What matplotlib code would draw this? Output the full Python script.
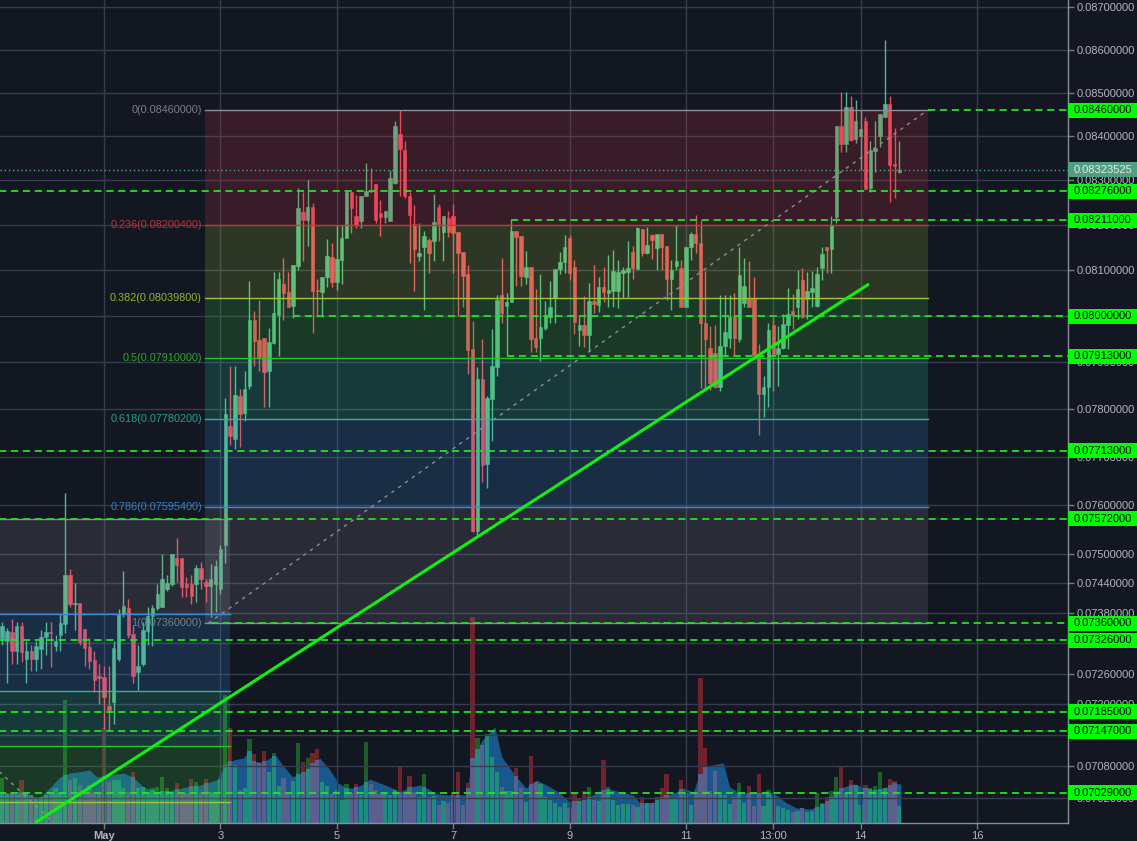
import numpy as np
import pandas as pd
import matplotlib
matplotlib.use("Agg")
import matplotlib.pyplot as plt
import matplotlib.dates as mdates
from matplotlib.patches import Rectangle
from matplotlib.transforms import IdentityTransform
from matplotlib.ticker import FixedLocator, FuncFormatter, NullLocator

plt.rcParams['font.family'] = ['Liberation Sans', 'DejaVu Sans']

# ---------- 2h candles, ETH/BTC, from 2018-04-29 06:00 ----------
first_candle = '2018-04-29 06:00'

opens = [
    .07330, .07324, .07342, .07304, .07355, .07290, .07304, .07290, .07308, .07332,
    .07342, .07314, .07336, .07359, .07458, .07399, .07401, .07348, .07312, .07288,
    .07256, .07253, .07197, .07205, .07290, .07379, .07391, .07338, .07264, .07280,
    .07344, .07375, .07391, .07393, .07429, .07439, .07492, .07492, .07439, .07439,
    .07439, .07472, .07443, .07435, .07439, .07429, .07519, .07765, .07738, .07828,
    .07792, .07849, .07992, .07948, .07952, .07882, .07941, .08002, .08070, .08053,
    .08022, .08110, .08230, .08211, .08241, .08057, .08053, .08086, .08130, .08075,
    .08123, .08171, .08275, .08220, .08209, .08264, .08275, .08293, .08227, .08218,
    .08209, .08295, .08405, .08368, .08264, .08202, .08132, .08152, .08167, .08165,
    .08241, .08185, .08216, .08220, .08185, .08141, .08092, .07929, .07546, .07864,
    .07685, .07822, .07891, .08046, .08022, .08031, .08187, .08176, .08086, .08108,
    .07952, .07952, .07975, .07998, .08040, .08103, .08119, .08171, .08108, .07969,
    .07981, .07960, .08033, .08024, .08064, .08051, .08055, .08055, .08094, .08097,
    .08141, .08103, .08191, .08138, .08178, .08149, .08180, .08154, .08081, .08110,
    .08105, .08020, .08152, .08180, .08160, .07985, .07931, .07920, .07847, .07935,
    .07952, .07998, .07950, .08029, .08040, .08040, .07916, .07832, .07847, .07981,
    .07918, .07931, .07981, .08011, .08020, .08079, .08037, .08053, .08022, .08105,
    .08152, .08147, .08218, .08423, .08382, .08466, .08393, .08400, .08434, .08284,
    .08366, .08400, .08445, .08475, .08336, .08320,
]
highs = [
    .07363, .07350, .07369, .07363, .07363, .07324, .07316, .07324, .07346, .07363,
    .07363, .07336, .07379, .07624, .07470, .07441, .07401, .07348, .07330, .07304,
    .07280, .07276, .07276, .07324, .07389, .07466, .07409, .07355, .07316, .07363,
    .07393, .07397, .07439, .07500, .07458, .07500, .07532, .07492, .07454, .07458,
    .07478, .07484, .07449, .07480, .07488, .07519, .07824, .07893, .07893, .07843,
    .07882, .08077, .08011, .08035, .07952, .07975, .08097, .08097, .08127, .08097,
    .08112, .08284, .08273, .08302, .08250, .08081, .08086, .08169, .08160, .08200,
    .08200, .08275, .08275, .08268, .08266, .08339, .08327, .08293, .08257, .08232,
    .08323, .08434, .08461, .08389, .08275, .08245, .08204, .08187, .08171, .08270,
    .08248, .08220, .08232, .08248, .08185, .08141, .08112, .07990, .07891, .07950,
    .07828, .07971, .08046, .08127, .08051, .08211, .08187, .08176, .08143, .08108,
    .08059, .08092, .08033, .08077, .08103, .08141, .08178, .08178, .08123, .07998,
    .08044, .08073, .08112, .08086, .08108, .08134, .08145, .08123, .08108, .08165,
    .08154, .08196, .08191, .08196, .08180, .08180, .08180, .08154, .08123, .08200,
    .08123, .08152, .08185, .08223, .08211, .08099, .07979, .07981, .08046,
    .08046, .08046, .08051, .08152, .08127, .08121, .08086, .07939, .07870, .07985,
    .07998, .07979, .08004, .08062, .08048, .08101, .08105, .08097, .08099, .08108,
    .08152, .08152, .08220, .08423, .08502, .08502, .08493, .08484, .08459, .08443,
    .08389, .08434, .08452, .08623, .08493, .08420, .08389,
]
lows = [
    .07316, .07241, .07280, .07280, .07284, .07241, .07266, .07266, .07270, .07296,
    .07274, .07304, .07304, .07340, .07393, .07346, .07316, .07276, .07270, .07225,
    .07201, .07152, .07148, .07161, .07286, .07373, .07330, .07241, .07227, .07276,
    .07316, .07314, .07387, .07393, .07425, .07435, .07443, .07413, .07413, .07399,
    .07403, .07429, .07403, .07373, .07383, .07419, .07482, .07725, .07717, .07721,
    .07775, .07843, .07893, .07882, .07805, .07805, .07939, .07914, .07992, .08020,
    .07996, .08101, .08121, .08154, .07964, .07998, .07998, .08064, .08064, .08057,
    .08070, .08171, .08182, .08193, .08193, .08264, .08273, .08205, .08176, .08205,
    .08209, .08291, .08264, .08261, .08116, .08055, .08121, .08013, .08094, .08121,
    .08165, .08121, .08174, .08094, .08000, .08020, .07876, .07544, .07534, .07647,
    .07635, .07733, .07870, .07985, .07916, .08031, .08066, .08066, .08070, .07922,
    .07922, .07903, .07969, .07985, .07985, .08092, .08095, .08079, .07962, .07935,
    .07933, .07924, .08007, .08009, .08031, .08020, .08020, .08018, .08040, .08042,
    .08081, .08103, .08132, .08136, .08125, .08101, .08101, .08035, .08013, .08101,
    .08020, .08020, .08123, .08138, .07845, .07840, .07840, .07845, .07838, .07912,
    .07931, .07916, .07943, .08020, .08020, .07914, .07746, .07784, .07805, .07838,
    .07849, .07929, .07929, .07971, .07994, .07996, .07994, .08020, .08020, .08079,
    .08095, .08095, .08205, .08364, .08364, .08389, .08384, .08323, .08280, .08275,
    .08318, .08375, .08445, .08252, .08261, .08316,
]
closes = [
    .07355, .07344, .07304, .07355, .07302, .07304, .07290, .07314, .07332, .07342,
    .07340, .07324, .07361, .07458, .07399, .07401, .07322, .07310, .07286, .07247,
    .07251, .07215, .07189, .07310, .07379, .07395, .07336, .07256, .07276, .07346,
    .07375, .07391, .07419, .07450, .07441, .07500, .07478, .07433, .07433, .07415,
    .07472, .07449, .07435, .07450, .07476, .07509, .07790, .07744, .07830, .07790,
    .07843, .07992, .07945, .07912, .07880, .07943, .08007, .08081, .08051, .08020,
    .08112, .08239, .08211, .08241, .08055, .08055, .08086, .08132, .08075, .08125,
    .08171, .08275, .08239, .08200, .08266, .08277, .08273, .08211, .08218, .08232,
    .08305, .08423, .08370, .08264, .08223, .08147, .08138, .08176, .08138, .08207,
    .08202, .08220, .08185, .08182, .08138, .08088, .07927, .07546, .07864, .07683,
    .07824, .07893, .08035, .08007, .08031, .08187, .08174, .08088, .08108, .07950,
    .07933, .07977, .08000, .08020, .08103, .08119, .08152, .08095, .07987, .07981,
    .07960, .08033, .08026, .08064, .08053, .08057, .08099, .08097, .08101, .08105,
    .08105, .08193, .08138, .08156, .08167, .08180, .08152, .08081, .08101, .08121,
    .08020, .08152, .08180, .08160, .07985, .07950, .07857, .07847, .07935, .07966,
    .07998, .07952, .08090, .08066, .08020, .07916, .07832, .07847, .07969, .07918,
    .07931, .07983, .08004, .08002, .08059, .07998, .08055, .08062, .08092, .08136,
    .08145, .08200, .08423, .08382, .08466, .08391, .08434, .08416, .08280, .08368,
    .08373, .08452, .08475, .08334, .08332, .083235,
]
volumes = [
    450, 300, 310, 280, 430, 310, 280, 250, 260, 280,
    310, 350, 300, 1230, 430, 450, 380, 330, 380, 310,
    300, 950, 410, 430, 430, 350, 310, 510, 350, 360,
    310, 350, 360, 460, 350, 310, 400, 310, 300, 440,
    410, 310, 440, 310, 300, 430, 1280, 950, 580, 330,
    350, 840, 690, 610, 720, 510, 700, 370, 450, 290,
    420, 800, 610, 650, 700, 740, 410, 370, 290, 330,
    230, 390, 300, 390, 280, 810, 390, 330, 290, 290,
    280, 330, 570, 310, 470, 310, 260, 490, 260, 270,
    180, 220, 200, 310, 510, 180, 400, 2060, 850, 780,
    890, 660, 510, 360, 320, 320, 550, 350, 210, 670,
    410, 390, 260, 230, 200, 160, 200, 150, 300, 240,
    320, 360, 230, 220, 630, 360, 230, 180, 190, 190,
    180, 160, 260, 200, 200, 260, 350, 490, 250, 250,
    430, 300, 180, 300, 1450, 750, 320, 520, 300, 280,
    190, 260, 400, 200, 370, 170, 490, 170, 330, 260,
    170, 150, 130, 110, 120, 150, 110, 120, 300, 200,
    260, 320, 460, 560, 300, 430, 380, 180, 380, 350,
    370, 510, 350, 440, 420, 170,
]

# volume moving average (blue area), read at candle positions counted from May 1 00:00
ma_pos = [-22, -17.3, -13.2, -9.1, -7, -2.9, -1.5, 1.2, 4, 6, 8.1, 10.9, 14.3, 17, 19.8,
          23.2, 25.3, 26.7, 28.7, 30, 31, 32.2, 33.5, 35.3, 37, 38.9, 40.4, 41.9, 43.2,
          44.5, 46.6, 48.3, 50, 51.4, 53.1, 54.8, 56.9, 59, 61, 63.1, 65.2, 66.9, 68.6,
          70.7, 74.8, 75.8, 78, 80.6, 82, 84.4, 87, 89.2, 92, 94, 96, 98.8, 101.6, 103.6,
          106.4, 109.1, 110.5, 113.3, 114.7, 117.4, 119.5, 121.5, 122.5, 123.9, 126.3,
          127.7, 129, 131.1, 134.6, 138, 140.8, 142.8, 145.6, 147.6, 149.7, 151.8, 154.5,
          156.6, 158.6, 161.4, 162.8, 164.3]
ma_vol = [280, 310, 250, 460, 500, 530, 460, 480, 500, 460, 360, 310, 330, 360, 380,
          430, 600, 630, 650, 720, 620, 600, 630, 680, 570, 460, 500, 530, 610,
          650, 530, 400, 350, 350, 380, 440, 400, 360, 310, 360, 380, 340, 290,
          280, 280, 630, 830, 960, 660, 500, 350, 430, 360, 300, 210, 230, 300, 350,
          310, 280, 200, 200, 260, 300, 350, 310, 450, 560, 590,
          600, 360, 300, 300, 300, 200, 150, 140, 170, 250, 350, 390,
          360, 330, 360, 400, 390]

# fibonacci retracement drawings
fib_levels = [0, 0.236, 0.382, 0.5, 0.618, 0.786, 1]
fib_level_names = ['0', '0.236', '0.382', '0.5', '0.618', '0.786', '1']
fib_top, fib_bottom = 0.0846, 0.0736
fib_span = ['2018-05-02 17:30', '2018-05-15 03:45']
fib_diag_start = '2018-05-02 19:00'
old_fib_low, old_fib_high = 0.06666, 0.07572
old_fib_span = ['2018-04-24 13:40', '2018-05-03 04:00']

# horizontal rays (price, start time)
ray_prices = [0.0846, 0.08276, 0.08211, 0.0800, 0.07913, 0.07713, 0.07572,
              0.0736, 0.07326, 0.07185, 0.07147, 0.07029]
ray_starts = ['2018-05-15 03:45', '2018-04-28', '2018-05-08 00:00', '2018-05-04 06:00',
              '2018-05-07 22:00', '2018-04-28', '2018-04-28', '2018-05-02 20:00',
              '2018-04-28', '2018-04-28', '2018-04-28', '2018-04-28']

trend_times = ['2018-04-29 19:30', '2018-05-14 03:27']
trend_prices = [0.06972, 0.0807]

last_price = 0.08323525

y_ticks = [0.087, 0.086, 0.085, 0.084, 0.083, 0.082, 0.081, 0.080, 0.079, 0.078,
           0.077, 0.076, 0.075, 0.0744, 0.0738, 0.0732, 0.0726, 0.0720, 0.0714,
           0.0708, 0.0702]
x_tick_times = ['2018-05-01', '2018-05-03', '2018-05-05', '2018-05-07', '2018-05-09',
                '2018-05-11', '2018-05-12 12:00', '2018-05-14', '2018-05-16']
x_tick_labels = ['May', '3', '5', '7', '9', '11', '13:00', '14', '16']

# ---------- styling ----------
bg = '#131722'
up_col, down_col = '#53b987', '#eb4d5c'
line_cols = ['#8c8f99', '#c8372f', '#a3c23a', '#26c526', '#31b39e', '#3d8bd3', '#8c8f99']
label_cols = ['#7c7f88', '#b8333a', '#98b52c', '#2aa82a', '#2a9f8c', '#3a7fc0', '#7c7f88']
zone_cols = ['#f23645', '#b2d93a', '#42e53a', '#36e5af', '#3c9ef0', '#9a98a3']
ray_col = '#1fe51f'

def tnum(s):
    return mdates.date2num(pd.Timestamp(s))

times = pd.date_range(first_candle, periods=len(closes), freq='2h')
t = mdates.date2num(times)
o, h, l, c = map(np.array, (opens, highs, lows, closes))
up = c >= o
cols = np.where(up, up_col, down_col)

may1 = tnum('2018-05-01')
x0, x1 = may1 - 1.787, may1 + 16.564

fig = plt.figure(figsize=(11.37, 8.41), dpi=100, facecolor=bg)
rect = [0, 18 / 841, 1068 / 1137, 823 / 841]
axv = fig.add_axes(rect)
ax = fig.add_axes(rect)

# volume pane (underneath)
axv.set_facecolor(bg)
axv.set_xlim(x0, x1)
axv.set_ylim(0, 8230)
axv.axis('off')
t_ma = may1 + np.array(ma_pos) / 12.0
axv.fill_between(t_ma, 0, ma_vol, color='#19588c', lw=0, zorder=1)
vol = np.array(volumes, dtype=float)
ma_at_bar = np.interp(t, t_ma, ma_vol)
inside = np.minimum(vol, ma_at_bar)
above = np.clip(vol - ma_at_bar, 0, None)
axv.bar(t, inside, width=0.072, color=np.where(up, '#1f8c7d', '#5b5f8e'), lw=0, zorder=2)
axv.bar(t, above, bottom=inside, width=0.072, color=np.where(up, '#1b5e2a', '#6e232d'),
        lw=0, zorder=2)

# price pane
ax.patch.set_alpha(0)
ax.set_yscale('log')
ax.set_xlim(x0, x1)
ax.set_ylim(0.069717, 0.087165)

ax.vlines(t, l, h, colors=cols, lw=1, zorder=2)
lo_b, hi_b = np.minimum(o, c), np.maximum(o, c)
ax.bar(t, hi_b - lo_b, bottom=lo_b, width=0.06, color=cols, edgecolor=cols, lw=0.4, zorder=2.1)

# main fib (0 at top)
fa, fb = tnum(fib_span[0]), tnum(fib_span[1])
fib_p = [fib_top - lv * (fib_top - fib_bottom) for lv in fib_levels]
for i in range(len(fib_levels) - 1):
    ax.fill_between([fa, fb], fib_p[i + 1], fib_p[i], color=zone_cols[i], alpha=0.17, lw=0, zorder=2.5)
for i, p in enumerate(fib_p):
    ax.plot([fa, fb], [p, p], color=line_cols[i], lw=1, zorder=2.6)
    ax.annotate(f'{fib_level_names[i]}({p:.8f})', xy=(fa, p), xytext=(-2, 0),
                textcoords='offset points', ha='right', va='center',
                fontsize=7.8, color=label_cols[i], zorder=4)
ax.plot([tnum(fib_diag_start), fb], [fib_bottom, fib_top], color='#8c8f99',
        lw=1, dashes=(2.5, 3.5), zorder=2.7)

# older fib on the left (1 at top)
oa, ob = tnum(old_fib_span[0]), tnum(old_fib_span[1])
old_p = [old_fib_low + lv * (old_fib_high - old_fib_low) for lv in fib_levels]
for i in range(len(fib_levels) - 1):
    ax.fill_between([oa, ob], old_p[i], old_p[i + 1], color=zone_cols[i], alpha=0.17, lw=0, zorder=2.5)
for i, p in enumerate(old_p):
    ax.plot([oa, ob], [p, p], color=line_cols[i], lw=1, zorder=2.6)
ax.plot([oa, ob], [old_fib_high, old_fib_low], color='#8c8f99', lw=1,
        dashes=(2.5, 3.5), zorder=2.7)

# rays
for p, s in zip(ray_prices, ray_starts):
    ax.plot([tnum(s), x1], [p, p], color=ray_col, lw=1.3, dashes=(4, 2.6), zorder=3)

ax.axhline(last_price, color='#5aa38d', lw=1, dashes=(1, 2), zorder=3)

ax.plot([tnum(s) for s in trend_times], trend_prices, color='#11f011', lw=2.2,
        zorder=3.5, solid_capstyle='butt')

# axes styling
ax.yaxis.set_major_locator(FixedLocator(y_ticks))
ax.yaxis.set_minor_locator(NullLocator())
ax.yaxis.set_major_formatter(FuncFormatter(lambda v, _: f'{v:.8f}'))
ax.yaxis.tick_right()
ax.tick_params(axis='y', length=4, width=1, color='#787b86', labelcolor='#b2b5be',
               labelsize=8, pad=2)
ax.set_xticks([tnum(s) for s in x_tick_times])
ax.set_xticklabels(x_tick_labels)
ax.tick_params(axis='x', length=4, width=1, color='#787b86', labelcolor='#b2b5be',
               labelsize=8, pad=2)
ax.get_xticklabels()[0].set_fontweight('bold')
ax.grid(True, color='#363c4e', lw=1)
ax.set_axisbelow(True)
for side in ('top', 'left'):
    ax.spines[side].set_visible(False)
for side in ('right', 'bottom'):
    ax.spines[side].set_color('#8a8e99')
    ax.spines[side].set_linewidth(1)

# price labels on the right scale
axis_px = rect[2] * 1137
def price_label(price, fc, tc):
    y = ax.transData.transform((x0, price))[1]
    fig.add_artist(Rectangle((axis_px, y - 7.5), 1137 - axis_px, 15, facecolor=fc,
                             edgecolor='none', transform=IdentityTransform(), zorder=5))
    fig.text(axis_px + 6, y, f'{price:.8f}', transform=IdentityTransform(), ha='left',
             va='center', fontsize=8, color=tc, zorder=6)

for p in ray_prices:
    price_label(p, '#00ff00', '#0a0a0a')
price_label(last_price, '#4f9f82', '#e8e8e8')

fig.savefig('out.png', dpi=100, facecolor=bg)
